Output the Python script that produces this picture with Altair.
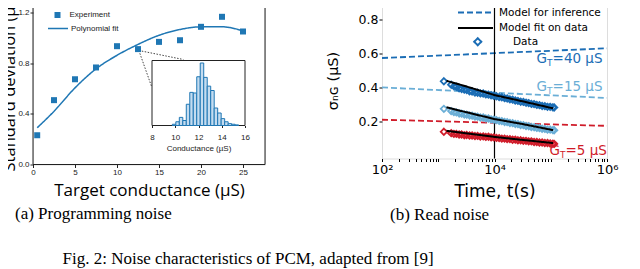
import altair as alt
import pandas as pd

# ---------------- Panel (a): programming noise ----------------
target_g = [0.5, 2.5, 5, 7.5, 10, 12.5, 15, 17.5, 20, 22.5, 25]
exp_std = [0.231, 0.508, 0.673, 0.766, 0.934, 0.911, 0.968, 0.981, 1.087, 1.166, 1.05]
fit_std = [0.29, 0.42, 0.605, 0.755, 0.862, 0.948, 1.02, 1.066, 1.087, 1.087, 1.055]

hist_start = [9.75, 10.05, 10.35, 10.65, 10.95, 11.25, 11.55, 11.85, 12.15, 12.45,
              12.75, 13.05, 13.35, 13.65, 13.95, 14.25, 14.55, 14.85, 15.15]
hist_count = [2, 6, 13, 8, 34, 53, 52, 78, 100, 77, 63, 56, 28, 20, 11, 6, 3, 2, 1]
hist_width = 0.3
inset_g = [8, 16]
inset_count = [0, 104]

main_g = [0, 27.62]
main_s = [0, 1.3105]

conn_x = [12.6, 12.6]
conn_y = [0.9, 0.9]
conn_x2 = [17.9, 14.13]
conn_y2 = [0.829, 0.613]

# ---------------- Panel (b): read noise ----------------
times = [1260, 1700, 1900, 2100, 2350, 2600, 2900, 3200, 3600, 4000, 4500, 5000, 5600,
         6300, 7000, 7800, 8700, 9700, 10800, 12100, 13500, 15100, 16800, 18800, 21000,
         23400, 26100, 29200, 32600, 36400, 40600, 45300, 50600, 56500, 63000, 70300,
         78500, 87600, 97800, 109000, 115000]
data_40 = [0.438, 0.418, 0.409, 0.406, 0.397, 0.393, 0.389, 0.387, 0.379, 0.378, 0.372,
           0.371, 0.367, 0.366, 0.361, 0.36, 0.356, 0.353, 0.35, 0.345, 0.344, 0.339,
           0.337, 0.332, 0.33, 0.325, 0.323, 0.318, 0.317, 0.312, 0.31, 0.305, 0.304,
           0.299, 0.298, 0.293, 0.292, 0.288, 0.288, 0.285, 0.284]
data_15 = [0.276, 0.263, 0.257, 0.255, 0.249, 0.248, 0.243, 0.242, 0.237, 0.236, 0.231,
           0.23, 0.225, 0.225, 0.22, 0.219, 0.214, 0.212, 0.21, 0.205, 0.204, 0.199,
           0.198, 0.193, 0.192, 0.187, 0.186, 0.181, 0.18, 0.175, 0.174, 0.169, 0.168,
           0.164, 0.163, 0.159, 0.158, 0.154, 0.154, 0.151, 0.15]
data_5 = [0.141, 0.133, 0.129, 0.129, 0.125, 0.125, 0.121, 0.122, 0.119, 0.119, 0.116,
          0.117, 0.113, 0.114, 0.111, 0.112, 0.108, 0.108, 0.105, 0.104, 0.101, 0.101,
          0.098, 0.098, 0.094, 0.095, 0.091, 0.091, 0.088, 0.088, 0.085, 0.085, 0.081,
          0.081, 0.078, 0.078, 0.075, 0.075, 0.072, 0.071, 0.07]

fit_t = [1400, 3000, 10000, 30000, 110000]
fit_40 = [0.441, 0.41, 0.357, 0.322, 0.279]
fit_15 = [0.285, 0.258, 0.216, 0.188, 0.151]
fit_5 = [0.147, 0.133, 0.111, 0.094, 0.075]

model_t = [100, 1000000]
model_40 = [0.575, 0.632]
model_15 = [0.402, 0.34]
model_5 = [0.212, 0.176]

gt_names = ["40", "15", "5"]
gt_colors = ["#1b6db5", "#6aaed6", "#d01c2a"]
label_t = [56000, 56000, 95000]
label_v = [0.569, 0.404, 0.029]
label_rest = ["=40 µS", "=15 µS", "=5 µS"]

vline_t = [10000]

BLUE = "#1f77b4"

# ================= Panel (a) =================
df_exp = pd.DataFrame({"g": target_g, "s": exp_std, "kind": "Experiment"})
df_fit = pd.DataFrame({"g": target_g, "s": fit_std, "kind": "Polynomial fit"})
df_conn = pd.DataFrame({"x": conn_x, "y": conn_y, "x2": conn_x2, "y2": conn_y2})
df_hist = pd.DataFrame({"lo": hist_start, "c": hist_count})
df_hist["hi"] = df_hist["lo"] + hist_width
df_frame = pd.DataFrame({"x": [inset_g[0]], "x2": [inset_g[1]],
                         "y": [inset_count[0]], "y2": [inset_count[1]]})
df_mframe = pd.DataFrame({"x": [main_g[0]], "x2": [main_g[1]],
                          "y": [main_s[0]], "y2": [main_s[1]]})

xa = alt.Scale(domain=main_g, nice=False, zero=False)
ya = alt.Scale(domain=main_s, nice=False)

x_axis_a = alt.Axis(values=[0, 2.5, 5, 7.5, 10, 12.5, 15, 17.5, 20, 22.5, 25],
                    labelExpr="datum.value % 5 == 0 ? format(datum.value, 'd') : ''",
                    title="Target conductance (µS)", titleFont="Open Sans", titleFontSize=17,
                    titleFontWeight="normal", titleColor="black", labelFont="Liberation Sans",
                    labelFontSize=8, labelColor="#222", tickSize=3, labelPadding=1,
                    titlePadding=6, domain=False, grid=False, labelFlush=False,
                    tickColor="#222", labelOverlap=False)
y_axis_a = alt.Axis(values=[0, 0.1, 0.2, 0.3, 0.4, 0.5, 0.6, 0.7, 0.8, 0.9, 1.0, 1.1, 1.2],
                    labelExpr="round(datum.value * 10) % 2 == 0 ? format(datum.value, '.1f') : ''",
                    title="Standard deviation (µS)", titleFont="Open Sans", titleFontSize=16.5,
                    titleFontWeight="normal", titleColor="black", labelFont="Liberation Sans",
                    labelFontSize=8, labelColor="#222", tickSize=3, labelPadding=1,
                    titleX=-24, titleY=83, titleAngle=270, titleAlign="center",
                    titleBaseline="middle", domain=False, grid=False, labelFlush=False,
                    tickColor="#222", labelOverlap=False)

mframe_a = alt.Chart(df_mframe).mark_rect(fill=None, stroke="#222", strokeWidth=1).encode(
    x=alt.X("x:Q", scale=xa, axis=x_axis_a), x2="x2:Q",
    y=alt.Y("y:Q", scale=ya, axis=y_axis_a), y2="y2:Q")
pts_a = alt.Chart(df_exp).mark_point(filled=True, size=36, opacity=1, shape="square").encode(
    x=alt.X("g:Q", scale=xa, axis=x_axis_a),
    y=alt.Y("s:Q", scale=ya, axis=y_axis_a),
    color=alt.value(BLUE),
    shape=alt.Shape("kind:N", scale=alt.Scale(domain=["Experiment"], range=["square"]),
                    legend=alt.Legend(title=None, orient="none", legendX=20.5, legendY=12.5,
                                      labelFont="Liberation Sans", labelFontSize=8,
                                      labelColor="#222", symbolSize=36, padding=0,
                                      labelOffset=8, symbolFillColor=BLUE,
                                      symbolStrokeColor=BLUE)),
)
line_a = alt.Chart(df_fit).mark_line(strokeWidth=1.5, interpolate="monotone").encode(
    x=alt.X("g:Q", scale=xa),
    y=alt.Y("s:Q", scale=ya),
    color=alt.value(BLUE),
    strokeDash=alt.StrokeDash("kind:N", scale=alt.Scale(domain=["Polynomial fit"], range=[[1, 0]]),
                              legend=alt.Legend(title=None, orient="none", legendX=14, legendY=19,
                                                labelFont="Liberation Sans", labelFontSize=8,
                                                labelColor="#222", symbolSize=400, padding=0,
                                                labelOffset=2, symbolStrokeColor=BLUE,
                                                symbolStrokeWidth=1.5)),
)
conn_a = alt.Chart(df_conn).mark_rule(strokeDash=[1.5, 1.5], color="#444", strokeWidth=1).encode(
    x=alt.X("x:Q", scale=xa), y=alt.Y("y:Q", scale=ya), x2="x2:Q", y2="y2:Q")

inset_x = alt.Scale(domain=inset_g, range=[119, 212], nice=False, zero=False)
inset_y = alt.Scale(domain=inset_count, range=[127, 62], nice=False)
inset_axis = alt.Axis(values=[8, 10, 12, 14, 16], format="d", orient="bottom", offset=-39,
                      title="Conductance (µS)", titleFont="Liberation Sans", titleFontSize=8,
                      titleFontWeight="normal", titleColor="#222", labelFont="Liberation Sans",
                      labelFontSize=8, labelColor="#222", tickSize=2, labelPadding=6,
                      titlePadding=3, domain=False, grid=False, labelFlush=False,
                      tickColor="#222")

frame_in = alt.Chart(df_frame).mark_rect(fill="white", stroke="#222", strokeWidth=1).encode(
    x=alt.X("x:Q", scale=inset_x, axis=inset_axis),
    x2="x2:Q",
    y=alt.Y("y:Q", scale=inset_y, axis=None),
    y2="y2:Q")
bars_in = alt.Chart(df_hist).mark_rect(fill="#c4dcf0", stroke=BLUE, strokeWidth=1).encode(
    x=alt.X("lo:Q", scale=inset_x, axis=inset_axis),
    x2="hi:Q",
    y=alt.Y("c:Q", scale=inset_y, axis=None),
    y2=alt.datum(0))

panel_a = alt.layer(
    alt.layer(mframe_a, conn_a, line_a, pts_a),
    alt.layer(frame_in, bars_in),
).resolve_scale(x="independent", y="independent").properties(
    width=232, height=166,
    title=alt.TitleParams("(a) Programming noise", orient="bottom", anchor="start",
                          frame="group", font="Liberation Serif", fontSize=17,
                          fontWeight="normal", color="black", dx=-18, offset=7),
)

# ================= Panel (b) =================
rows = []
for name, vals in zip(gt_names, [data_40, data_15, data_5]):
    for t, v in zip(times, vals):
        rows.append({"t": t, "v": v, "gt": name, "kind": "Data"})
df_data = pd.DataFrame(rows)
rows = []
for name, vals in zip(gt_names, [fit_40, fit_15, fit_5]):
    for t, v in zip(fit_t, vals):
        rows.append({"t": t, "v": v, "gt": name, "kind": "Model fit on data"})
df_fitb = pd.DataFrame(rows)
rows = []
for name, vals in zip(gt_names, [model_40, model_15, model_5]):
    for t, v in zip(model_t, vals):
        rows.append({"t": t, "v": v, "gt": name, "kind": "Model for inference"})
df_model = pd.DataFrame(rows)
df_lab = pd.DataFrame({"t": label_t, "v": label_v, "gt": gt_names, "rest": label_rest,
                       "g": "G", "sub": "T"})
df_vline = pd.DataFrame({"t": vline_t})

xb = alt.Scale(type="log", domain=[100, 1000000], nice=False)
yb = alt.Scale(domain=[-0.016, 0.925], nice=False, zero=False)
cb = alt.Scale(domain=gt_names, range=gt_colors)

tick_vals = []
for e in [100, 1000, 10000, 100000]:
    for m in range(1, 10):
        tick_vals.append(m * e)
tick_vals.append(1000000)

x_axis_b = alt.Axis(values=tick_vals,
                    labelExpr="datum.value == 100 ? '10²' : datum.value == 10000 ? '10⁴' : datum.value == 1000000 ? '10⁶' : ''",
                    title="Time, t(s)", titleFont="DejaVu Sans", titleFontSize=17,
                    titleFontWeight="normal", titleColor="black", labelFont="DejaVu Sans",
                    labelFontSize=13, labelColor="black", tickSize=3, labelPadding=2,
                    titlePadding=7, domain=False, grid=False, labelFlush=False,
                    tickColor="black", labelOverlap=False)
y_axis_b = alt.Axis(values=[0.2, 0.4, 0.6, 0.8], format=".1f",
                    title="σₙɢ (µS)", titleFont="DejaVu Sans", titleFontSize=14.5,
                    titleFontWeight="normal", titleColor="black", labelFont="DejaVu Sans",
                    labelFontSize=12.5, labelColor="black", tickSize=3, labelPadding=1,
                    titleX=-49, titleY=82, titleAngle=270, titleAlign="center",
                    titleBaseline="middle", domain=False, grid=False, tickColor="black")

leg_common = dict(title=None, orient="none", labelFont="DejaVu Sans", labelFontSize=10.5,
                  labelColor="black", padding=0)

model_b = alt.Chart(df_model).mark_line(strokeWidth=1.8).encode(
    x=alt.X("t:Q", scale=xb, axis=x_axis_b),
    y=alt.Y("v:Q", scale=yb, axis=y_axis_b),
    color=alt.Color("gt:N", scale=cb, legend=None),
    strokeDash=alt.StrokeDash("kind:N", scale=alt.Scale(domain=["Model for inference"], range=[[6, 3]]),
                              legend=alt.Legend(legendX=75, legendY=-4.5, symbolSize=1225,
                                                labelOffset=5, symbolStrokeColor="#1b6db5",
                                                symbolStrokeWidth=2, **leg_common)),
)
data_b = alt.Chart(df_data).mark_point(filled=False, size=40, strokeWidth=1.8, opacity=1,
                                       shape="diamond").encode(
    x=alt.X("t:Q", scale=xb),
    y=alt.Y("v:Q", scale=yb),
    color=alt.Color("gt:N", scale=cb, legend=None),
    strokeDash=alt.StrokeDash("kind:N", scale=alt.Scale(domain=["Data"], range=[[1, 0]]),
                              legend=alt.Legend(legendX=90.5, legendY=38, symbolSize=50,
                                                symbolType="diamond", labelOffset=30,
                                                symbolStrokeColor="#1b6db5",
                                                symbolFillColor="white",
                                                symbolStrokeWidth=2, **leg_common)),
)
fit_b = alt.Chart(df_fitb).mark_line(color="black", strokeWidth=2).encode(
    x=alt.X("t:Q", scale=xb),
    y=alt.Y("v:Q", scale=yb),
    detail="gt:N",
    strokeDash=alt.StrokeDash("kind:N", scale=alt.Scale(domain=["Model fit on data"], range=[[1, 0]]),
                              legend=alt.Legend(legendX=75, legendY=11, symbolSize=1225,
                                                labelOffset=5, symbolStrokeColor="black",
                                                symbolStrokeWidth=2, **leg_common)),
)
vline_b = alt.Chart(df_vline).mark_rule(color="black", strokeWidth=1.2).encode(
    x=alt.X("t:Q", scale=xb))

lab_g = alt.Chart(df_lab).mark_text(align="left", baseline="middle", font="DejaVu Sans",
                                    fontSize=13.5).encode(
    x=alt.X("t:Q", scale=xb), y=alt.Y("v:Q", scale=yb), text="g:N",
    color=alt.Color("gt:N", scale=cb, legend=None))
lab_t = alt.Chart(df_lab).mark_text(align="left", baseline="middle", font="DejaVu Sans",
                                    fontSize=9, dx=10.5, dy=4).encode(
    x=alt.X("t:Q", scale=xb), y=alt.Y("v:Q", scale=yb), text="sub:N",
    color=alt.Color("gt:N", scale=cb, legend=None))
lab_r = alt.Chart(df_lab).mark_text(align="left", baseline="middle", font="DejaVu Sans",
                                    fontSize=13.5, dx=16).encode(
    x=alt.X("t:Q", scale=xb), y=alt.Y("v:Q", scale=yb), text="rest:N",
    color=alt.Color("gt:N", scale=cb, legend=None))

panel_b = alt.layer(model_b, vline_b, data_b, fit_b, lab_g, lab_t, lab_r).resolve_scale(
    strokeDash="independent"
).properties(
    width=225, height=160,
    title=alt.TitleParams("(b) Read noise", orient="bottom", anchor="start",
                          frame="group", font="Liberation Serif", fontSize=17,
                          fontWeight="normal", color="black", dx=8, offset=7),
)

chart = alt.hconcat(panel_a, panel_b, spacing=58).resolve_scale(
    color="independent", shape="independent", strokeDash="independent",
).resolve_legend(
    color="independent", shape="independent", strokeDash="independent",
).properties(
    padding={"left": -8, "top": -16.5, "right": 0, "bottom": 0},
    title=alt.TitleParams("Fig. 2: Noise characteristics of PCM, adapted from [9]",
                          orient="bottom", anchor="start", font="Liberation Serif",
                          fontSize=17, fontWeight="normal", color="black", dx=62, offset=28),
).configure_view(stroke="black", strokeWidth=1).configure(background="white")

chart.save("out.html", embed_options={"renderer": "svg", "actions": False})
